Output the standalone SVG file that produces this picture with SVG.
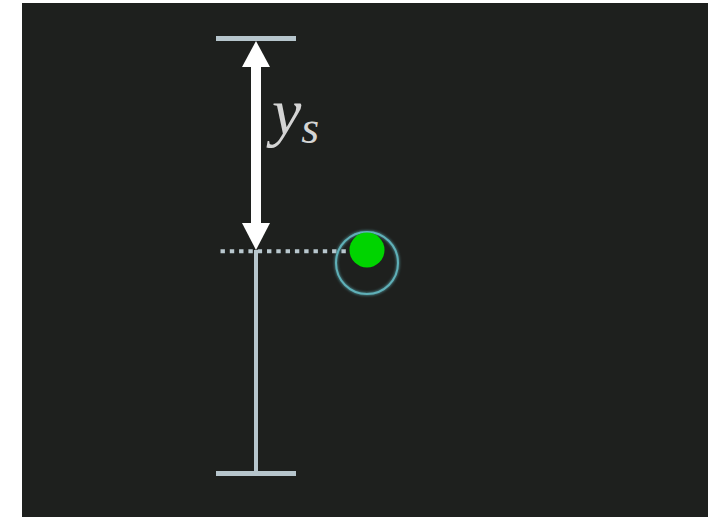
<svg xmlns="http://www.w3.org/2000/svg" width="720" height="517" viewBox="0 0 720 517">
<style>
.bar{fill:#b6c5cc}
.ruler{stroke:#b6c5cc;stroke-width:4;fill:none}
.dots{stroke:#b9c8cf;stroke-width:4;stroke-dasharray:4.4 4.9;fill:none}
.arrow{stroke:#ffffff;stroke-width:10;fill:none}
.head{fill:#ffffff}
.label{font-family:"Liberation Serif","DejaVu Serif",serif;font-style:italic;fill:#d4d4d4}
</style>
<defs>
<filter id="glow" x="-50%" y="-50%" width="200%" height="200%">
<feGaussianBlur stdDeviation="1.5" result="b"/>
<feMerge><feMergeNode in="b"/><feMergeNode in="SourceGraphic"/></feMerge>
</filter>
</defs>
<rect x="0" y="0" width="720" height="517" fill="#ffffff"/>
<rect x="22" y="3" width="686" height="514" fill="#1e201e"/>
<g id="ruler">
<line class="ruler" x1="256" y1="250" x2="256" y2="472"/>
<rect class="bar" x="216" y="36" width="80" height="5"/>
<rect class="bar" x="216" y="471" width="80" height="5"/>
</g>
<g id="connectors">
<line class="dots" x1="220.5" y1="251.3" x2="347" y2="251.3"/>
<line class="arrow" x1="256" y1="64" x2="256" y2="226"/>
<polygon class="head" points="256,41 242,67 270,67"/>
<polygon class="head" points="256,250 242,223 270,223"/>
</g>
<g id="label">
<text class="label" x="272" y="134" font-size="66">y<tspan font-size="46" dy="9">s</tspan></text>
</g>
<g id="particle">
<circle cx="367" cy="263" r="31" fill="none" stroke="#5fb0b8" stroke-width="2" filter="url(#glow)"/>
<circle cx="367" cy="250" r="17.5" fill="#00d400"/>
</g>
</svg>
